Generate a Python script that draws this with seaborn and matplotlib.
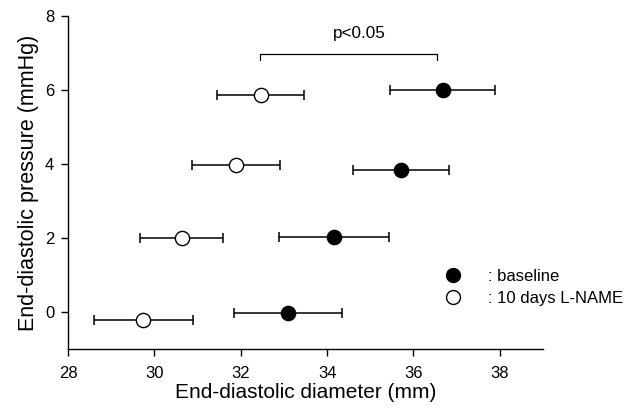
import matplotlib
matplotlib.use("Agg")
import matplotlib.pyplot as plt
from matplotlib.lines import Line2D
import seaborn as sns
import pandas as pd

# baseline (filled circles)
base_diam = [33.10, 34.16, 35.71, 36.68]
base_press = [-0.02, 2.02, 3.85, 5.99]
base_err = [1.25, 1.27, 1.12, 1.22]

# 10 days L-NAME (open circles)
lname_diam = [29.74, 30.63, 31.89, 32.46]
lname_press = [-0.21, 2.00, 3.98, 5.87]
lname_err = [1.15, 0.97, 1.03, 1.00]

group_labels = [": baseline", ": 10 days L-NAME"]
xticks = [28, 30, 32, 34, 36, 38]
yticks = [0, 2, 4, 6, 8]

df = pd.DataFrame({
    "diam": base_diam + lname_diam,
    "press": base_press + lname_press,
    "err": base_err + lname_err,
    "group": [group_labels[0]] * 4 + [group_labels[1]] * 4,
})

sns.set_theme(style="ticks")
plt.rcParams["font.family"] = ["Liberation Sans", "DejaVu Sans"]
plt.rcParams["text.color"] = "black"
plt.rcParams["axes.labelcolor"] = "black"

fig = plt.figure(figsize=(6.27, 4.13), dpi=100)
ax = fig.add_axes([0.1085, 0.155, 0.7575, 0.806])

# error bars first, markers on top
ax.errorbar(df["diam"], df["press"], xerr=df["err"], fmt="none",
            ecolor="black", elinewidth=1.1, capsize=3.8, capthick=1.1, zorder=1)

sns.scatterplot(data=df[df["group"] == group_labels[0]], x="diam", y="press",
                color="black", edgecolor="black", s=105, linewidth=1,
                zorder=3, ax=ax, legend=False)
sns.scatterplot(data=df[df["group"] == group_labels[1]], x="diam", y="press",
                color="white", edgecolor="black", s=105, linewidth=1,
                zorder=3, ax=ax, legend=False)

# significance bracket
ax.plot([32.44, 32.44, 36.54, 36.54], [6.80, 6.97, 6.97, 6.80],
        color="black", lw=0.9)
ax.text(34.75, 7.33, "p<0.05", ha="center", va="bottom", fontsize=12.3)

ax.set_xlim(28, 39)
ax.set_ylim(-1, 8)
ax.set_xticks(xticks)
ax.set_yticks(yticks)
ax.tick_params(direction="out", length=5, width=1, labelsize=12, colors="black")
ax.tick_params(axis="x", pad=7)
ax.tick_params(axis="y", pad=5)
for side in ["left", "bottom"]:
    ax.spines[side].set_linewidth(1)
    ax.spines[side].set_color("black")
sns.despine(ax=ax)

ax.set_xlabel("End-diastolic diameter (mm)", fontsize=15, labelpad=2)
ax.set_ylabel("End-diastolic pressure (mmHg)", fontsize=15.5, labelpad=4)

handles = [
    Line2D([], [], marker="o", ls="none", markersize=10, markerfacecolor="black",
           markeredgecolor="black"),
    Line2D([], [], marker="o", ls="none", markersize=10, markerfacecolor="white",
           markeredgecolor="black"),
]
ax.legend(handles, group_labels, loc="center left", bbox_to_anchor=(0.762, 0.185),
          frameon=False, fontsize=12, handletextpad=1.1, labelspacing=0.45,
          borderaxespad=0)

fig.savefig("out.png", dpi=100)
